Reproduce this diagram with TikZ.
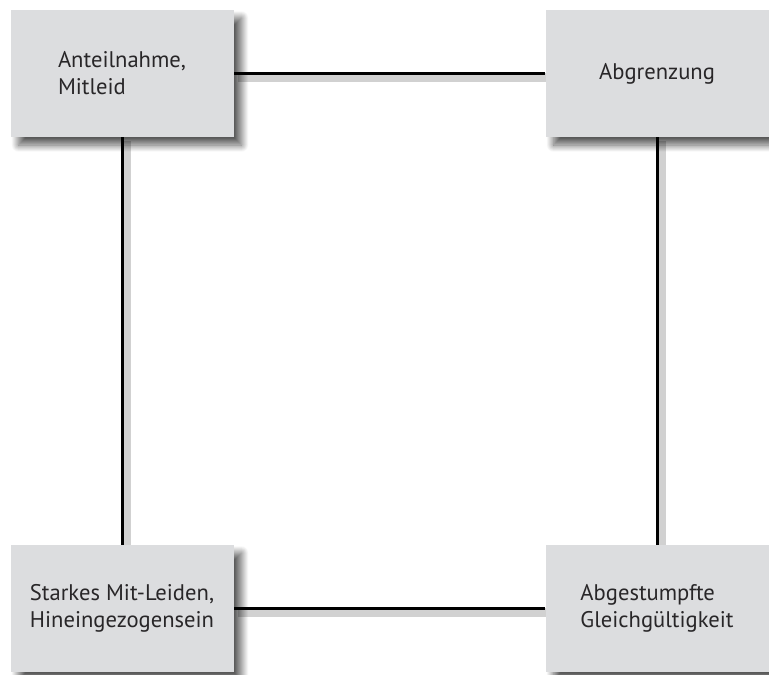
\documentclass[tikz,border=0pt]{standalone}
\usepackage{fontspec}
\setmainfont{PT Sans}
\usetikzlibrary{shadows.blur, backgrounds}
\definecolor{boxgray}{RGB}{220,221,223}
\definecolor{txtgray}{RGB}{40,38,40}

\begin{document}
\begin{tikzpicture}[
  x=0.5pt, y=-0.5pt,
  font=\fontsize{11.3}{13.6}\selectfont, text=txtgray,
  feld/.style={fill=boxgray, minimum width=111.5pt, minimum height=63.5pt,
               inner sep=0pt, align=left,
               blur shadow={shadow xshift=4pt, shadow yshift=-4pt,
                            shadow blur radius=3.5pt, shadow blur steps=14,
                            shadow opacity=65}},
  verb/.style={line width=1.5pt, black,
               preaction={draw, black, opacity=0.18, line width=4.5pt,
                          transform canvas={shift={(2pt,-2pt)}}}}
]
\useasboundingbox (0,0) rectangle (769,674);

\node[feld] (mitleid) at (122,73.5)
  {Anteilnahme,\\Mitleid};
\node[feld] (abgrenz) at (657,73.5)
  {Abgrenzung};
\node[feld] (mitleiden) at (122,608.5)
  {Starkes Mit-Leiden,\\Hineingezogensein};
\node[feld] (gleichg) at (657,608.5)
  {Abgestumpfte\\Gleichgültigkeit};

% Verbindungen hinter den Feldern
\begin{scope}[on background layer]
\draw[verb] (mitleid)   -- (abgrenz);
\draw[verb] (mitleid)   -- (mitleiden);
\draw[verb] (abgrenz)   -- (gleichg);
\draw[verb] (mitleiden) -- (gleichg);
\end{scope}

\end{tikzpicture}
\end{document}
